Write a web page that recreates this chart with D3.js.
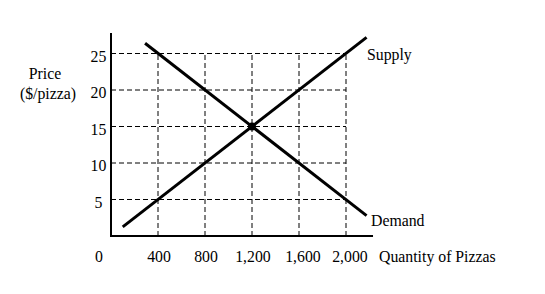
<!DOCTYPE html>
<meta charset="UTF-8">
<style>
  body { margin: 0; background: #fff; }
  text { font-family: "Liberation Serif", "Times New Roman", serif; font-size: 15.8px; fill: #000; }
  .grid { stroke: #000; stroke-width: 1px; stroke-dasharray: 5,3; fill: none; }
  .axis { stroke: #000; stroke-width: 2px; }
  .curve { stroke: #000; stroke-width: 3px; fill: none; }
</style>
<body>
<script src="https://d3js.org/d3.v7.min.js"></script>
<script>

// quantities and prices
var qTicks = [400, 800, 1200, 1600, 2000];
var qLabels = ["400", "800", "1,200", "1,600", "2,000"];
var pTicks = [5, 10, 15, 20, 25];
var supply = [[100, 1.25], [2175, 27.2]];
var demand = [[290, 26.4], [2175, 2.8]];
var equilibrium = [1200, 15];

var svg = d3.select("body").append("svg")
    .attr("width", 545)
    .attr("height", 294);

var x = d3.scaleLinear().domain([0, 2000]).range([111, 346]);
var y = d3.scaleLinear().domain([0, 25]).range([236, 53.5]);

// dashed grid
svg.selectAll("line.hgrid").data(pTicks).enter().append("line")
    .attr("class", "grid")
    .attr("x1", x(0)).attr("x2", x(2000))
    .attr("y1", function(d) { return y(d); })
    .attr("y2", function(d) { return y(d); });

svg.selectAll("line.vgrid").data(qTicks).enter().append("line")
    .attr("class", "grid")
    .attr("x1", function(d) { return x(d); })
    .attr("x2", function(d) { return x(d); })
    .attr("y1", y(0)).attr("y2", y(25));

// axes
svg.append("line").attr("class", "axis")
    .attr("x1", x(0)).attr("x2", x(0))
    .attr("y1", y(0) + 1).attr("y2", y(27.8));
svg.append("line").attr("class", "axis")
    .attr("x1", x(0) - 1).attr("x2", x(2230))
    .attr("y1", y(0)).attr("y2", y(0));

// tick labels
svg.selectAll("text.ylab").data(pTicks).enter().append("text")
    .attr("x", 98.5)
    .attr("y", function(d) { return y(d) + 8; })
    .attr("text-anchor", "middle")
    .text(function(d) { return d; });

svg.append("text").attr("x", 99).attr("y", 262)
    .attr("text-anchor", "middle").text("0");

svg.selectAll("text.xlab").data(qTicks).enter().append("text")
    .attr("x", function(d, i) { return x(d) + (i > 2 ? 4 : 1); })
    .attr("y", 262)
    .attr("text-anchor", "middle")
    .text(function(d, i) { return qLabels[i]; });

// axis titles
svg.append("text").attr("x", 45).attr("y", 79)
    .attr("text-anchor", "middle").text("Price");
svg.append("text").attr("x", 48).attr("y", 99)
    .attr("text-anchor", "middle").text("($/pizza)");
svg.append("text").attr("x", 379).attr("y", 262).text("Quantity of Pizzas");

// supply and demand
var line = d3.line()
    .x(function(d) { return x(d[0]); })
    .y(function(d) { return y(d[1]); });

svg.append("path").attr("class", "curve").attr("d", line(supply));
svg.append("path").attr("class", "curve").attr("d", line(demand));

svg.append("circle")
    .attr("cx", x(equilibrium[0]))
    .attr("cy", y(equilibrium[1]))
    .attr("r", 4)
    .attr("fill", "#000");

svg.append("text").attr("x", 367).attr("y", 60).text("Supply");
svg.append("text").attr("x", 371).attr("y", 226).text("Demand");

</script>
</body>
